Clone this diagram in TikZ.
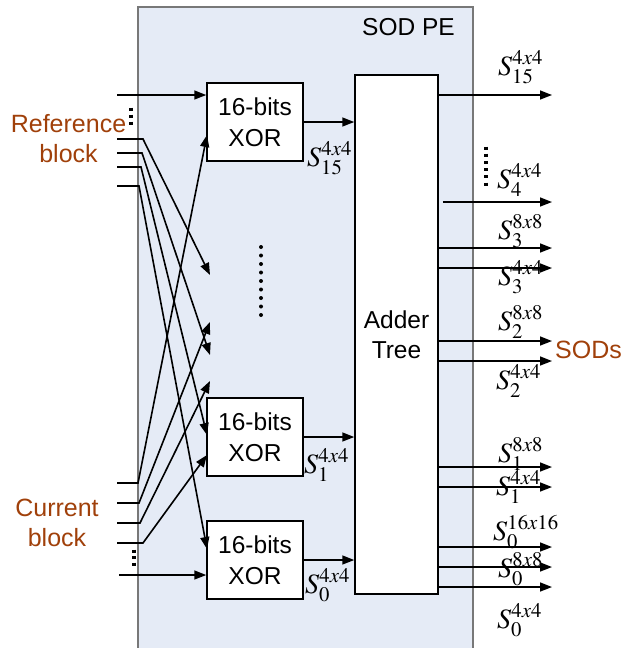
\documentclass[tikz,border=0pt]{standalone}
\usepackage{mathptmx}
\usepackage[no-math]{fontspec}
\setmainfont{Liberation Sans}
\usetikzlibrary{arrows.meta}
\definecolor{blockbrown}{RGB}{160,64,10}
\definecolor{pefill}{RGB}{229,235,246}
\definecolor{peline}{RGB}{120,120,120}

\begin{document}
\begin{tikzpicture}[x=1pt, y=-1pt,
  xorbox/.style={draw, line width=1.5pt, fill=white, align=center, inner sep=0pt,
    minimum width=96pt, minimum height=78pt, font=\fontsize{24.5}{31}\selectfont},
  arr/.style={-{Triangle[length=12pt,width=9pt]}, line width=1.6pt},
  sumlab/.style={anchor=base west, inner sep=0pt, font=\fontsize{28}{32}\selectfont},
  blocklab/.style={align=center, inner sep=0pt, text=blockbrown, font=\fontsize{25}{30}\selectfont},
  sqdots/.style={line width=3.5pt, dash pattern=on 3pt off 4pt}
]
\useasboundingbox (0,0) rectangle (625,648);

% processing element
\node[draw=peline, fill=pefill, line width=1.5pt, minimum width=335pt, minimum height=643pt, inner sep=0pt] (pebox) at (305.5,328.5) {};
\node[anchor=base, inner sep=0pt, font=\fontsize{24.5}{30}\selectfont] (pename) at (408.5,35) {SOD PE};

\node[xorbox] (xor15) at (255,122) {16-bits\\XOR};
\node[xorbox] (xor1) at (255,437) {16-bits\\XOR};
\node[xorbox] (xor0) at (255,560) {16-bits\\XOR};
\node[draw, line width=1.5pt, fill=white, minimum width=83pt, minimum height=519pt, inner sep=0pt,
  align=center, font=\fontsize{24.5}{30}\selectfont] (adder) at (396.5,334.5) {Adder\\Tree};

% inputs
\node[blocklab] (refblk) at (68.5,139) {Reference\\block};
\node[blocklab] (curblk) at (57,523) {Current\\block};

\coordinate (refin) at (117,95);
\coordinate (refa) at (117,139);
\coordinate (refb) at (117,153);
\coordinate (refc) at (117,167);
\coordinate (refd) at (117,186);
\coordinate (cura) at (117,483);
\coordinate (curb) at (117,503);
\coordinate (curc) at (117,523);
\coordinate (curd) at (117,543);
\coordinate (curin) at (119,575);

\coordinate (gap1) at (210,275);
\coordinate (gap2) at (210,355);
\coordinate (gap3) at (210,322);
\coordinate (gap4) at (210,381);
\coordinate (xin15) at (207,135);
\coordinate (xin1a) at (207,435);
\coordinate (xin1b) at (207,455);
\coordinate (xin0) at (207,549);

\draw[arr] (refin) -- (xor15.west |- refin);
\draw[arr] (refa) -- ++(26,0) -- (gap1);
\draw[arr] (refb) -- ++(25,0) -- (gap2);
\draw[arr] (refc) -- ++(24,0) -- (xin1a);
\draw[arr] (refd) -- ++(22,0) -- (xin0);
\draw[arr] (cura) -- ++(21,0) -- (xin15);
\draw[arr] (curb) -- ++(22,0) -- (gap3);
\draw[arr] (curc) -- ++(23,0) -- (gap4);
\draw[arr] (curd) -- ++(26,0) -- (xin1b);
\draw[arr] (curin) -- (xor0.west |- curin);

\draw[sqdots] (131,107.5) -- (131,125);
\draw[sqdots, dash pattern=on 3pt off 3.5pt] (134,549.5) -- (134,566);
\draw[line width=4pt, line cap=round, dash pattern=on 0pt off 8.5pt] (261,247) -- (261,316);

% xor outputs
\draw[arr] (xor15.east) -- (xor15.east -| adder.west);
\draw[arr] (xor1.east) -- (xor1.east -| adder.west);
\draw[arr] (xor0.east) -- (xor0.east -| adder.west);
\node[sumlab] (sx15) at (307,166) {$S_{15}^{4x4}$};
\node[sumlab] (sx1) at (304,473) {$S_{1}^{4x4}$};
\node[sumlab] (sx0) at (305,593) {$S_{0}^{4x4}$};

% adder outputs
\coordinate (o15) at (552,95);
\coordinate (o4) at (552,202);
\coordinate (o3b) at (552,248);
\coordinate (o3a) at (552,268);
\coordinate (o2b) at (552,341);
\coordinate (o2a) at (552,361);
\coordinate (o1b) at (552,467);
\coordinate (o1a) at (552,487);
\coordinate (o0c) at (552,547);
\coordinate (o0b) at (552,567);
\coordinate (o0a) at (552,587);

\draw[arr] (adder.east |- o15) -- (o15);
\draw[arr] ([xshift=4pt]adder.east |- o4) -- (o4);
\draw[arr] (adder.east |- o3b) -- (o3b);
\draw[arr] (adder.east |- o3a) -- (o3a);
\draw[arr] (adder.east |- o2b) -- (o2b);
\draw[arr] (adder.east |- o2a) -- (o2a);
\draw[arr] (adder.east |- o1b) -- (o1b);
\draw[arr] (adder.east |- o1a) -- (o1a);
\draw[arr] (adder.east |- o0c) -- (o0c);
\draw[arr] (adder.east |- o0b) -- (o0b);
\draw[arr] (adder.east |- o0a) -- (o0a);

\draw[sqdots, dash pattern=on 3pt off 4.2pt] (486,146.5) -- (486,186);

\node[sumlab] (s15) at (498,75) {$S_{15}^{4x4}$};
\node[sumlab] (s4) at (497,188) {$S_{4}^{4x4}$};
\node[sumlab] (s3b) at (498,239) {$S_{3}^{8x8}$};
\node[sumlab] (s3a) at (498,285) {$S_{3}^{4x4}$};
\node[sumlab] (s2b) at (498,330) {$S_{2}^{8x8}$};
\node[sumlab] (s2a) at (496,389) {$S_{2}^{4x4}$};
\node[sumlab] (s1b) at (498,462) {$S_{1}^{8x8}$};
\node[sumlab] (s1a) at (496,495) {$S_{1}^{4x4}$};
\node[sumlab] (s0c) at (493,540) {$S_{0}^{16x16}$};
\node[sumlab] (s0b) at (498,577) {$S_{0}^{8x8}$};
\node[sumlab] (s0a) at (497,628) {$S_{0}^{4x4}$};
\node[blocklab, anchor=base west] (sods) at (555,358) {SODs};
\end{tikzpicture}
\end{document}
